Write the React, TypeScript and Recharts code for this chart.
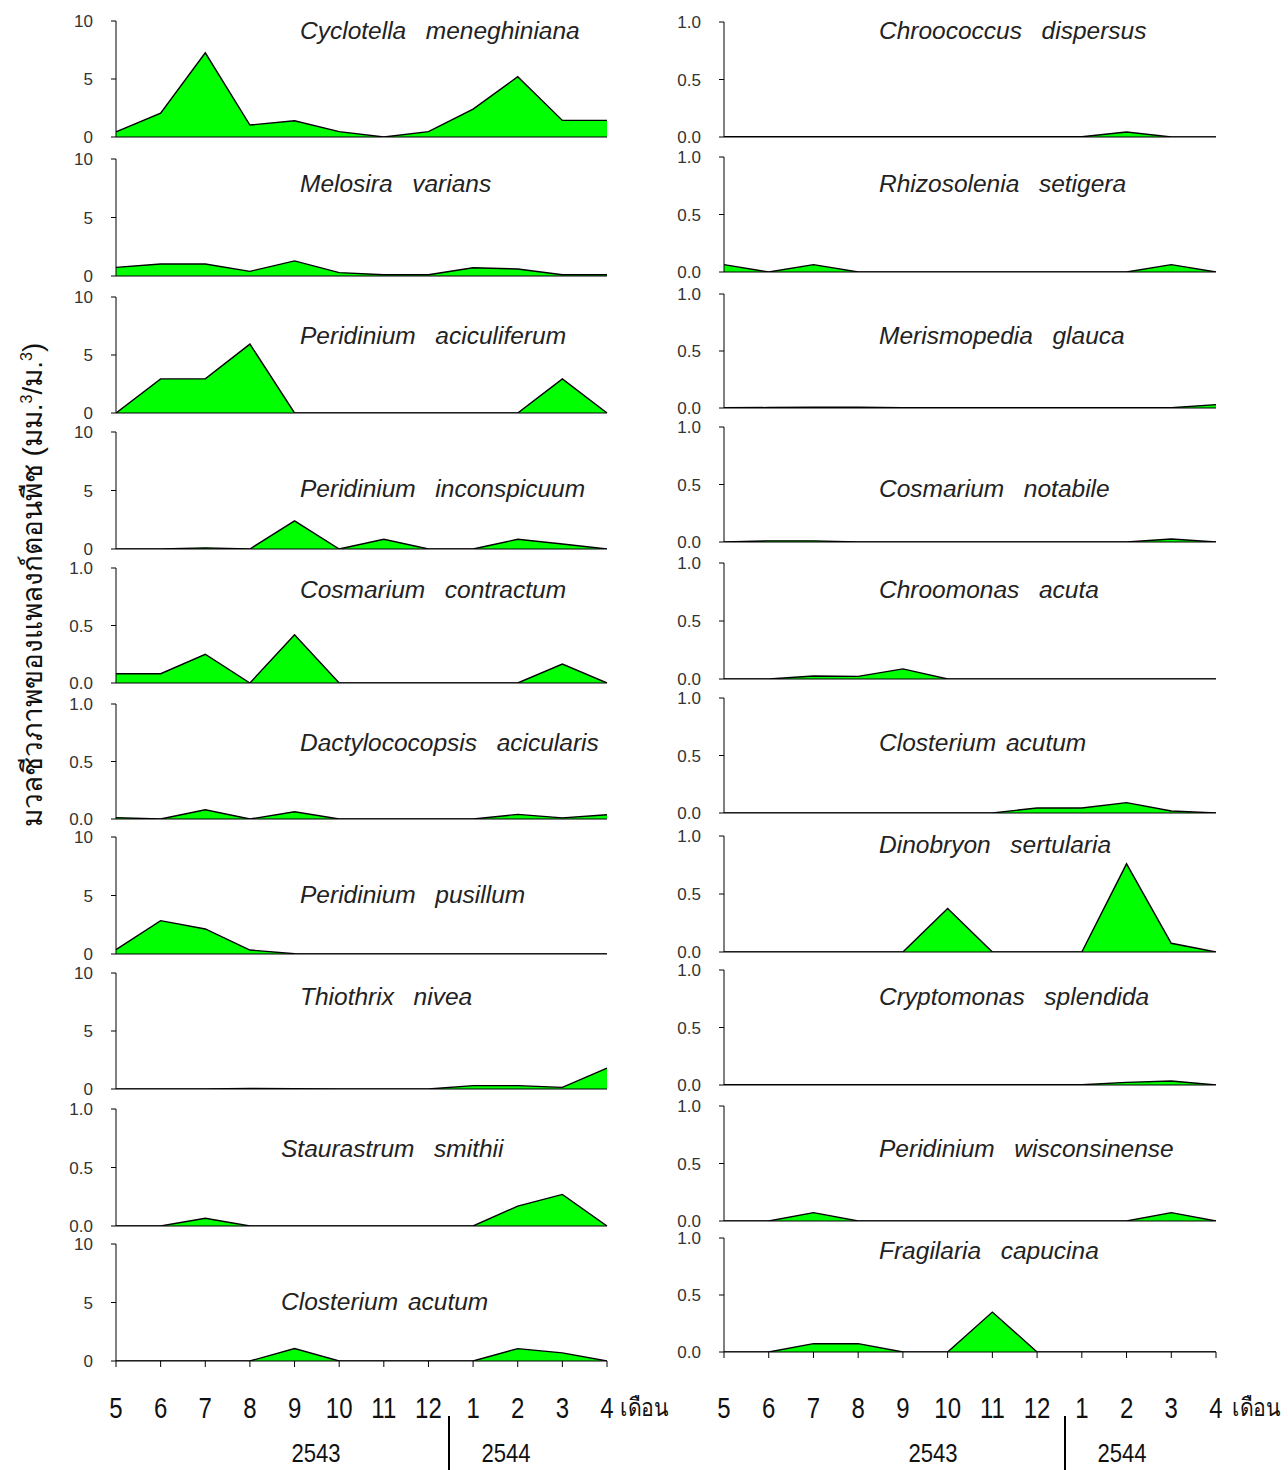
import { Area, AreaChart, XAxis, YAxis } from "recharts";

// sampling months, May 2543 – April 2544
const months = ["5", "6", "7", "8", "9", "10", "11", "12", "1", "2", "3", "4"];

// biovolume (mm3/m3) per species, left column
const cyclotellaMeneghiniana = [0.45, 2.06, 7.26, 1.03, 1.4, 0.46, 0, 0.46, 2.4, 5.2, 1.43, 1.43];
const melosiraVarians = [0.74, 1.03, 1.03, 0.4, 1.29, 0.29, 0.11, 0.11, 0.71, 0.6, 0.11, 0.11];
const peridiniumAciculiferum = [0, 2.94, 2.94, 5.94, 0, 0, 0, 0, 0, 0, 2.94, 0];
const peridiniumInconspicuum = [0, 0, 0.1, 0, 2.4, 0, 0.83, 0, 0, 0.83, 0.43, 0];
const cosmariumContractum = [0.081, 0.081, 0.25, 0, 0.42, 0, 0, 0, 0, 0, 0.165, 0];
const dactylococopsisAcicularis = [0.012, 0, 0.08, 0, 0.063, 0, 0, 0, 0, 0.04, 0.01, 0.037];
const peridiniumPusillum = [0.37, 2.85, 2.14, 0.34, 0.02, 0, 0, 0, 0, 0, 0, 0];
const thiothrixNivea = [0, 0, 0, 0.05, 0.02, 0, 0, 0, 0.29, 0.29, 0.14, 1.8];
const staurastrumSmithii = [0, 0, 0.066, 0, 0, 0, 0, 0, 0, 0.17, 0.27, 0];
const closteriumAcutumA = [0, 0, 0, 0, 1.06, 0, 0, 0, 0, 1.06, 0.69, 0];

// right column
const chroococcusDispersus = [0.003, 0.003, 0.003, 0.003, 0.002, 0.002, 0.002, 0.002, 0.002, 0.043, 0, 0];
const rhizosoleniaSetigera = [0.064, 0, 0.064, 0, 0, 0, 0, 0, 0, 0, 0.064, 0];
const merismopediaGlauca = [0.002, 0.004, 0.006, 0.006, 0.002, 0.002, 0.002, 0.002, 0.002, 0.002, 0.002, 0.03];
const cosmariumNotabile = [0, 0.01, 0.01, 0, 0, 0, 0, 0, 0, 0, 0.026, 0];
const chroomonasAcuta = [0, 0, 0.026, 0.023, 0.087, 0, 0, 0, 0, 0, 0, 0];
const closteriumAcutumB = [0, 0, 0, 0, 0, 0, 0, 0.044, 0.044, 0.09, 0.017, 0];
const dinobryonSertularia = [0, 0, 0, 0, 0, 0.376, 0, 0, 0, 0.76, 0.075, 0];
const cryptomonasSplendida = [0.002, 0.002, 0.002, 0.002, 0.002, 0.002, 0.002, 0.002, 0.002, 0.023, 0.035, 0];
const peridiniumWisconsinense = [0, 0, 0.073, 0, 0, 0, 0, 0, 0, 0, 0.073, 0];
const fragilariaCapucina = [0, 0, 0.073, 0.073, 0, 0, 0.35, 0, 0, 0, 0, 0];

const leftSeries = [
  { name: "Cyclotella  meneghiniana", values: cyclotellaMeneghiniana, max: 10 },
  { name: "Melosira  varians", values: melosiraVarians, max: 10 },
  { name: "Peridinium  aciculiferum", values: peridiniumAciculiferum, max: 10 },
  { name: "Peridinium  inconspicuum", values: peridiniumInconspicuum, max: 10 },
  { name: "Cosmarium  contractum", values: cosmariumContractum, max: 1 },
  { name: "Dactylococopsis  acicularis", values: dactylococopsisAcicularis, max: 1 },
  { name: "Peridinium  pusillum", values: peridiniumPusillum, max: 10 },
  { name: "Thiothrix  nivea", values: thiothrixNivea, max: 10 },
  { name: "Staurastrum  smithii", values: staurastrumSmithii, max: 1 },
  { name: "Closterium acutum", values: closteriumAcutumA, max: 10 },
];

const rightSeries = [
  { name: "Chroococcus  dispersus", values: chroococcusDispersus, max: 1 },
  { name: "Rhizosolenia  setigera", values: rhizosoleniaSetigera, max: 1 },
  { name: "Merismopedia  glauca", values: merismopediaGlauca, max: 1 },
  { name: "Cosmarium  notabile", values: cosmariumNotabile, max: 1 },
  { name: "Chroomonas  acuta", values: chroomonasAcuta, max: 1 },
  { name: "Closterium acutum", values: closteriumAcutumB, max: 1 },
  { name: "Dinobryon  sertularia", values: dinobryonSertularia, max: 1 },
  { name: "Cryptomonas  splendida", values: cryptomonasSplendida, max: 1 },
  { name: "Peridinium  wisconsinense", values: peridiniumWisconsinense, max: 1 },
  { name: "Fragilaria  capucina", values: fragilariaCapucina, max: 1 },
];

// panel geometry (page px)
const leftCol = {
  x0: 116,
  x1: 607,
  tops: [21, 159, 297, 432, 568, 704, 837, 973, 1109, 1244],
  bottoms: [137, 276, 413, 549, 683, 819, 954, 1089, 1226, 1361],
  titleX: [300, 300, 300, 300, 300, 300, 300, 300, 281, 281],
  titleY: [31, 184, 336, 489, 590, 743, 895, 997, 1149, 1302],
};
const rightCol = {
  x0: 724,
  x1: 1216,
  tops: [22, 157, 294, 427, 563, 698, 836, 970, 1106, 1238],
  bottoms: [137, 272, 408, 542, 679, 813, 952, 1085, 1221, 1352],
  titleX: [879, 879, 879, 879, 879, 879, 879, 879, 879, 879],
  titleY: [31, 184, 336, 489, 590, 743, 845, 997, 1149, 1251],
};

const MONTH_BASELINE = 1418;
const ML = 60;
const MT = 10;
const MR = 14;
const tickFont = "'Liberation Sans', Arial, sans-serif";

interface PanelProps {
  x0: number;
  x1: number;
  top: number;
  bottom: number;
  values: number[];
  max: number;
  showMonths: boolean;
}

function Panel({ x0, x1, top, bottom, values, max, showMonths }: PanelProps) {
  const rows = months.map((m, i) => ({ m, v: values[i] }));
  const xH = showMonths ? 80 : 12;
  const ticks = max === 10 ? [0, 5, 10] : [0, 0.5, 1];
  // month labels share one baseline across both columns; chart top sits at (top - MT)
  const monthTick = (p: any) => (
    <g transform={`translate(${p.x},${MONTH_BASELINE - (top - MT)}) scale(0.8,1)`}>
      <text x={0} y={0} textAnchor="middle" fontSize={30} fontFamily={tickFont} fill="#111">
        {p.payload.value}
      </text>
    </g>
  );
  return (
    <div style={{ position: "absolute", left: x0 - ML, top: top - MT }}>
      <AreaChart
        width={x1 - x0 + ML + MR}
        height={bottom - top + MT + xH}
        data={rows}
        margin={{ top: MT, right: MR, bottom: 0, left: 0 }}
      >
        <XAxis
          dataKey="m"
          height={xH}
          interval={0}
          tickSize={6}
          axisLine={{ stroke: "#000" }}
          tickLine={{ stroke: "#000" }}
          tick={showMonths ? monthTick : false}
        />
        <YAxis
          width={ML}
          type="number"
          domain={[0, max]}
          ticks={ticks}
          allowDataOverflow
          tickSize={5}
          tickMargin={18}
          axisLine={{ stroke: "#000" }}
          tickLine={{ stroke: "#000" }}
          tick={{ fontSize: 17, fill: "#333", fontFamily: tickFont }}
          tickFormatter={(v: number) => (max === 10 ? String(v) : v.toFixed(1))}
        />
        <Area
          type="linear"
          dataKey="v"
          stroke="#000"
          strokeWidth={1.4}
          fill="#00ff00"
          fillOpacity={1}
          isAnimationActive={false}
          dot={false}
          activeDot={false}
        />
      </AreaChart>
    </div>
  );
}

function Column({ col, series }: { col: typeof leftCol; series: typeof leftSeries }) {
  return (
    <>
      {series.map((s, i) => (
        <Panel
          key={s.name + i}
          x0={col.x0}
          x1={col.x1}
          top={col.tops[i]}
          bottom={col.bottoms[i]}
          values={s.values}
          max={s.max}
          showMonths={i === series.length - 1}
        />
      ))}
      {series.map((s, i) => (
        <div
          key={"t" + i}
          style={{
            position: "absolute",
            left: col.titleX[i],
            top: col.titleY[i] - 15,
            fontSize: 24.5,
            lineHeight: "30px",
            fontStyle: "italic",
            fontFamily: tickFont,
            color: "#222",
            whiteSpace: "pre",
            wordSpacing: 3,
          }}
        >
          {s.name}
        </div>
      ))}
    </>
  );
}

function YearAxis({ x0, divider, monthX }: { x0: number; divider: number; monthX: number }) {
  const base = {
    position: "absolute" as const,
    fontSize: 26,
    fontFamily: tickFont,
    color: "#111",
    lineHeight: "30px",
    transform: "scaleX(0.85)",
  };
  return (
    <>
      <div style={{ ...base, left: x0 + 200 - 40, top: 1438, width: 80, textAlign: "center" }}>2543</div>
      <div style={{ ...base, left: divider + 58 - 40, top: 1438, width: 80, textAlign: "center" }}>2544</div>
      <div style={{ position: "absolute", left: divider, top: 1416, width: 2, height: 54, background: "#000" }} />
      <div
        style={{
          ...base,
          left: monthX,
          top: 1392,
          fontSize: 25,
          transformOrigin: "left center",
          whiteSpace: "nowrap",
        }}
      >
        เดือน
      </div>
    </>
  );
}

export default function App() {
  return (
    <div
      style={{
        position: "absolute",
        left: 0,
        top: 0,
        width: 1288,
        height: 1470,
        background: "#fff",
        overflow: "hidden",
      }}
    >
      <Column col={leftCol} series={leftSeries} />
      <Column col={rightCol} series={rightSeries} />
      <YearAxis x0={116} divider={448} monthX={620} />
      <YearAxis x0={733} divider={1064} monthX={1232} />
      <div
        style={{
          position: "absolute",
          left: 27 - 300,
          top: 585 - 16,
          width: 600,
          height: 32,
          lineHeight: "32px",
          textAlign: "center",
          transform: "rotate(-90deg)",
          fontSize: 28,
          fontFamily: tickFont,
          color: "#111",
          whiteSpace: "nowrap",
        }}
      >
        มวลชีวภาพของแพลงก์ตอนพืช (มม.<sup style={{ fontSize: 16 }}>3</sup>/ม.<sup style={{ fontSize: 16 }}>3</sup>)
      </div>
    </div>
  );
}
